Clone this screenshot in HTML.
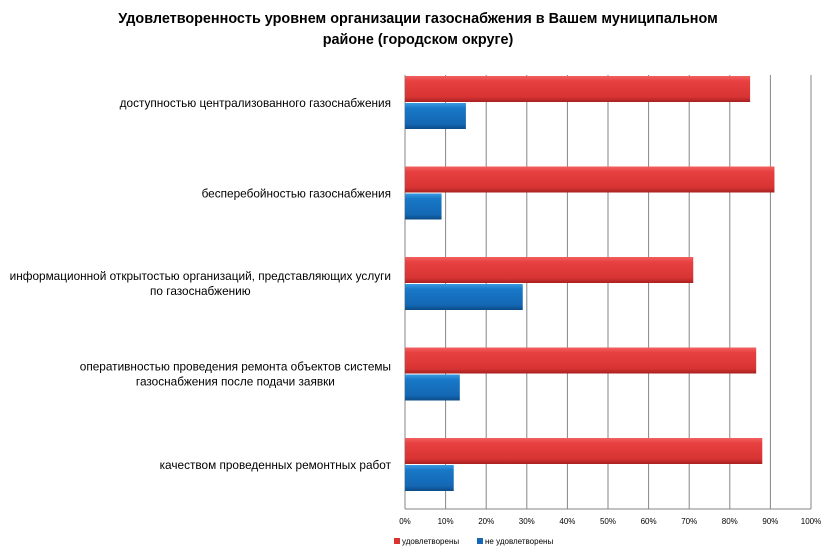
<!DOCTYPE html>
<html><head><meta charset="utf-8">
<style>
body{margin:0;background:#fff;font-family:"Liberation Sans","DejaVu Sans",sans-serif;}
#c{position:relative;width:830px;height:552px;overflow:hidden;}
svg text{font-family:"Liberation Sans","DejaVu Sans",sans-serif;}
</style></head>
<body>
<div id="c">
<svg id="s" width="830" height="552" xmlns="http://www.w3.org/2000/svg">
<defs>
<linearGradient id="gr" x1="0" y1="0" x2="0" y2="1">
<stop offset="0" stop-color="#f26060"/><stop offset="0.2" stop-color="#e84040"/><stop offset="0.8" stop-color="#d83434"/><stop offset="1" stop-color="#a82020"/></linearGradient>
<linearGradient id="gb" x1="0" y1="0" x2="0" y2="1">
<stop offset="0" stop-color="#3a9ae0"/><stop offset="0.2" stop-color="#1878c8"/><stop offset="0.8" stop-color="#1468b4"/><stop offset="1" stop-color="#0c4c88"/></linearGradient>
</defs>
<text x="418" y="23" text-anchor="middle" font-size="14.4" font-weight="bold">Удовлетворенность уровнем организации газоснабжения в Вашем муниципальном</text>
<text x="418" y="44" text-anchor="middle" font-size="14.4" font-weight="bold">районе (городском округе)</text>
<g id="grid"></g><g id="bars"></g><g id="labels"></g>
<g>
<rect x="394" y="538" width="6" height="6" fill="#d83434"/>
<text x="402" y="544" font-size="8">удовлетворены</text>
<rect x="477" y="538" width="6" height="6" fill="#1468b4"/>
<text x="485" y="544" font-size="8">не удовлетворены</text>
</g>
</svg>
</div>
<script>
const categories=[["доступностью централизованного газоснабжения"],["бесперебойностью газоснабжения"],["информационной открытостью организаций, представляющих услуги","по газоснабжению"],["оперативностью проведения ремонта объектов системы","газоснабжения после подачи заявки"],["качеством проведенных ремонтных работ"]];
const satisfied=[85,91,71,86.5,88];
const unsatisfied=[15,9,29,13.5,12];
const ticks=[0,10,20,30,40,50,60,70,80,90,100];
const NS="http://www.w3.org/2000/svg";
const x0=405,x1=811,yTop=75,yBot=509;
const xs=v=>x0+(x1-x0)*v/100;
const band=i=>76+i*90.5;
function mk(t,a,p){const e=document.createElementNS(NS,t);for(const k in a)e.setAttribute(k,a[k]);p.appendChild(e);return e;}
const g=document.getElementById('grid'),b=document.getElementById('bars'),l=document.getElementById('labels');
ticks.forEach(t=>{
 const ln=mk('line',{x1:xs(t),x2:xs(t),y1:yTop,y2:yBot,stroke:'#868686','stroke-width':1},g);
 
 
 const tx=mk('text',{x:xs(t),y:524,'text-anchor':'middle','font-size':8},l);
 tx.textContent=t+'%';
 
 
});
const base=mk('line',{x1:x0,x2:x1,y1:yBot,y2:yBot,stroke:'#868686'},g);


categories.forEach((c,i)=>{
 const y=band(i);
 const r=mk('rect',{x:x0,y:y,width:xs(satisfied[i])-x0,height:26,fill:'url(#gr)'},b);
 
 
 const bl=mk('rect',{x:x0,y:y+27,width:xs(unsatisfied[i])-x0,height:26,fill:'url(#gb)'},b);
 
 
 const cy=y+27+(c.length===1?4:-4);
 const els=[];
 c.forEach((line,j)=>{
  const t=mk('text',{x:391,y:cy+j*15,'text-anchor':'end','font-size':11.8},l);
  t.textContent=line;
  
  
  els.push(t);
 });
 if(els.length>1){
  let w=0;els.forEach(e=>{w=Math.max(w,e.getComputedTextLength());});
  const cx=391-w/2;
  els.forEach(e=>{e.setAttribute('text-anchor','middle');e.setAttribute('x',cx);});
 }
});
</script>
</body></html>
